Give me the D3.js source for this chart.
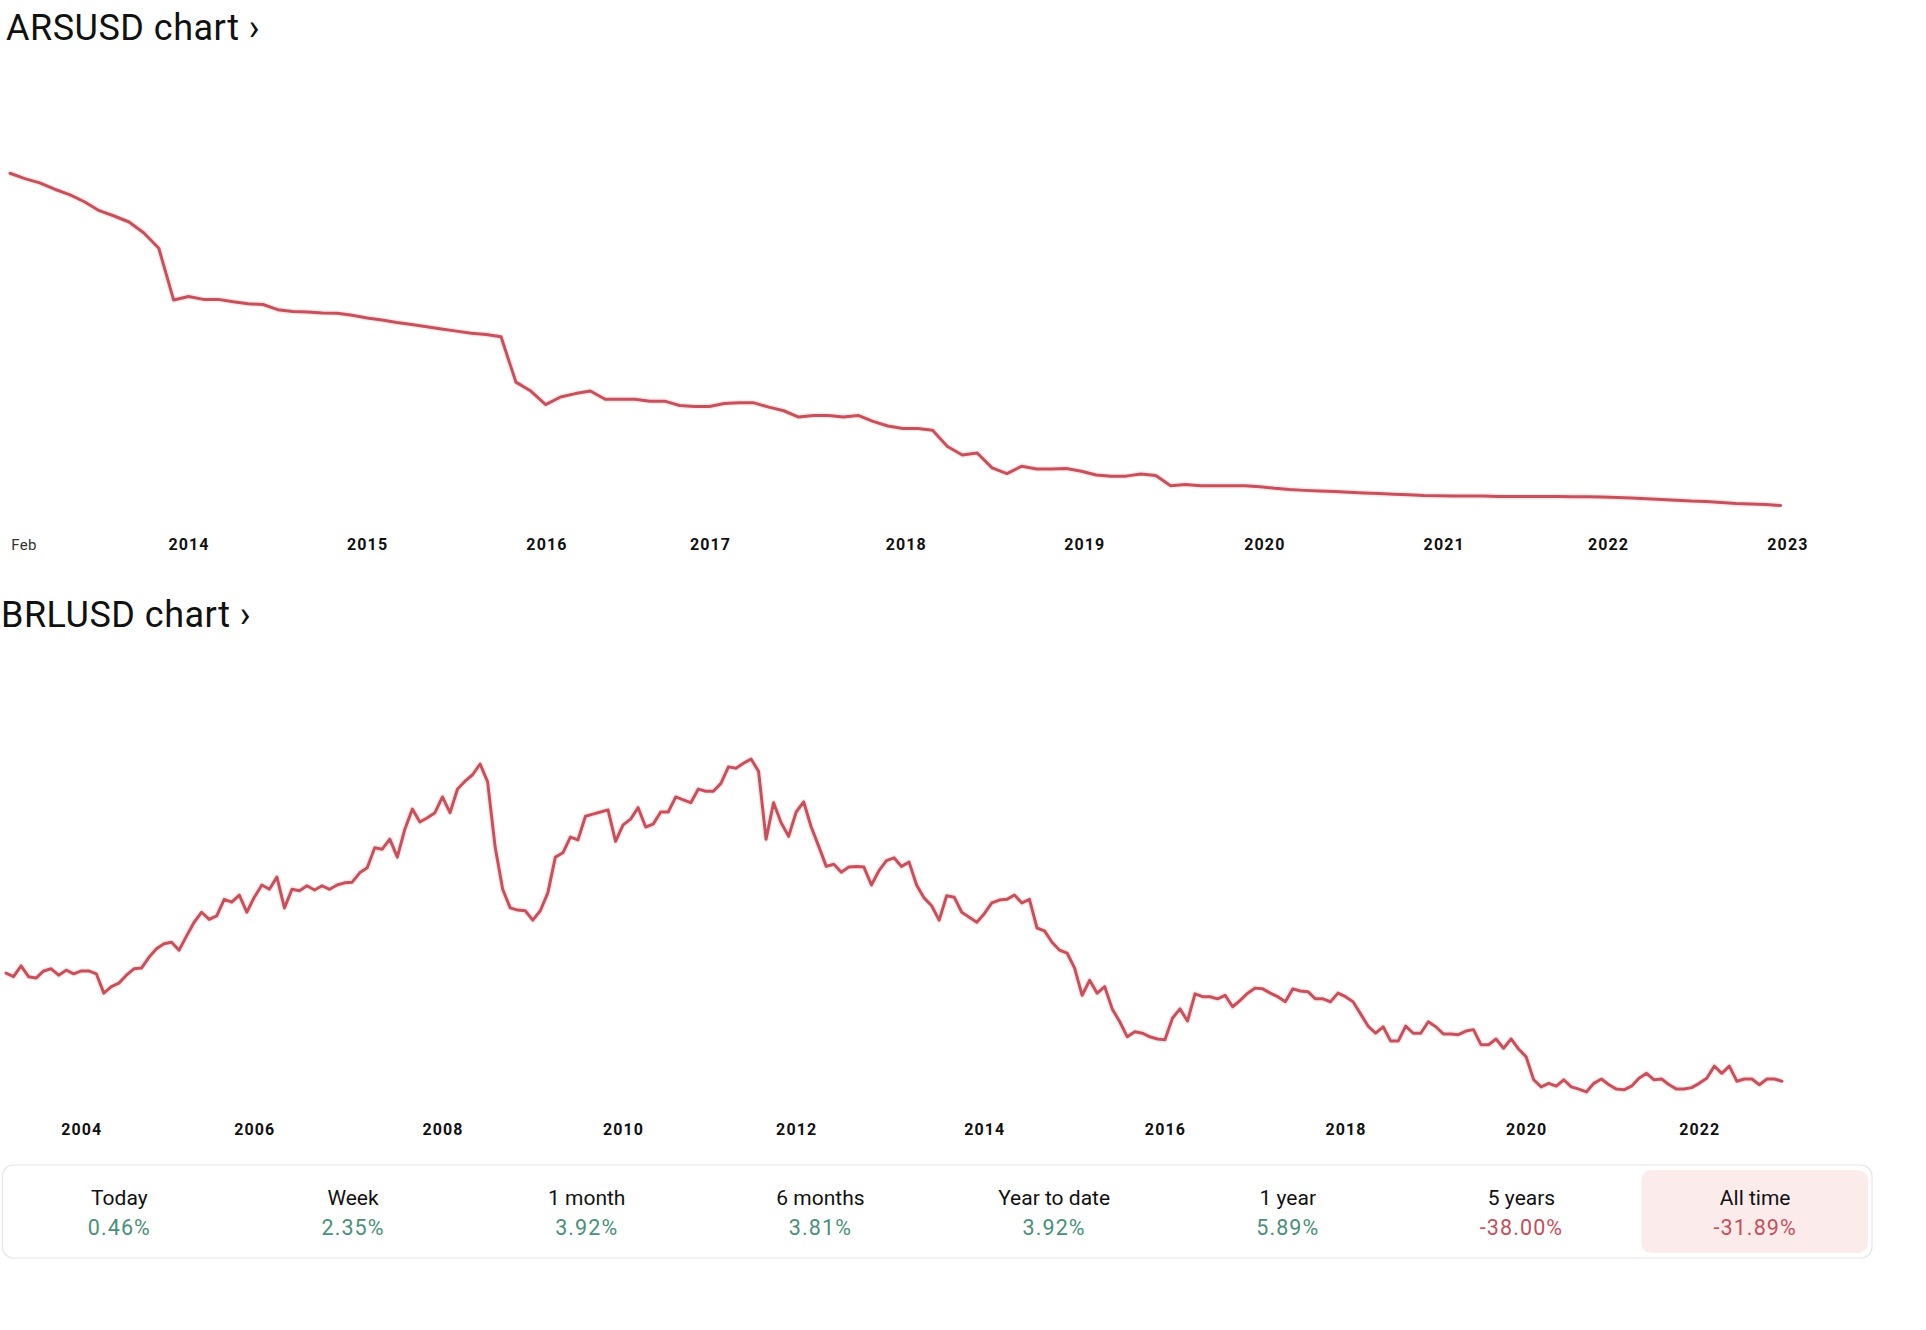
<!DOCTYPE html>
<html>
<head>
<meta charset="utf-8">
<script src="https://cdn.jsdelivr.net/npm/d3@7"></script>
<style>
  html, body { margin: 0; padding: 0; background: #ffffff; }
  svg { display: block; }
</style>
</head>
<body>
<svg id="chart" width="1926" height="1330"></svg>
<script>
// ---------------- DATA ----------------
// ARS/USD, monthly points (USD per ARS)
const arsValues = [
  0.1988, 0.1957, 0.1932, 0.1895, 0.1864, 0.1822, 0.1770, 0.1739, 0.1704, 0.1640,
  0.1551, 0.1249, 0.1270, 0.1253, 0.1253, 0.1239, 0.1228, 0.1223, 0.1193, 0.1183,
  0.1179, 0.1174, 0.1172, 0.1160, 0.1145, 0.1133, 0.1118, 0.1106, 0.1093, 0.1081,
  0.1068, 0.1056, 0.1048, 0.1035, 0.0771, 0.0719, 0.0640, 0.0684, 0.0704, 0.0719,
  0.0671, 0.0671, 0.0671, 0.0660, 0.0660, 0.0635, 0.0629, 0.0629, 0.0646, 0.0650,
  0.0650, 0.0625, 0.0604, 0.0567, 0.0577, 0.0577, 0.0567, 0.0577, 0.0542, 0.0515,
  0.0500, 0.0500, 0.0490, 0.0396, 0.0346, 0.0358, 0.0271, 0.0238, 0.0281, 0.0265,
  0.0265, 0.0267, 0.0251, 0.0230, 0.0223, 0.0223, 0.0236, 0.0227, 0.0167, 0.0174,
  0.0167, 0.0167, 0.0167, 0.0167, 0.0161, 0.0152, 0.0145, 0.0140, 0.0136, 0.0133,
  0.0129, 0.0125, 0.0122, 0.0118, 0.0114, 0.0110, 0.0108, 0.0107, 0.0107, 0.0107,
  0.0105, 0.0105, 0.0105, 0.0105, 0.0105, 0.0103, 0.0103, 0.0101, 0.0099, 0.0095,
  0.0091, 0.0087, 0.0083, 0.0078, 0.0075, 0.0069, 0.0064, 0.0061, 0.0057, 0.0052
];
const arsTickLabels = ["Feb", "2014", "2015", "2016", "2017", "2018", "2019", "2020", "2021", "2022", "2023"];
const arsTickPos    = [0.9, 12, 24, 36.05, 47.05, 60.2, 72.2, 84.3, 96.35, 107.4, 119.45]; // month offsets

// BRL/USD, monthly points (USD per BRL), from Mar 2003
const brlValues = [
  0.346, 0.341, 0.356, 0.341, 0.339, 0.349, 0.352, 0.343, 0.350, 0.345,
  0.349, 0.349, 0.345, 0.318, 0.327, 0.332, 0.343, 0.352, 0.353, 0.368,
  0.380, 0.387, 0.389, 0.378, 0.398, 0.417, 0.431, 0.421, 0.426, 0.449,
  0.445, 0.455, 0.431, 0.452, 0.469, 0.463, 0.480, 0.437, 0.463, 0.461,
  0.468, 0.462, 0.468, 0.463, 0.469, 0.472, 0.473, 0.486, 0.493, 0.521,
  0.519, 0.533, 0.508, 0.547, 0.575, 0.557, 0.563, 0.570, 0.592, 0.570,
  0.603, 0.614, 0.623, 0.638, 0.613, 0.522, 0.463, 0.437, 0.434, 0.433,
  0.420, 0.433, 0.458, 0.508, 0.514, 0.536, 0.532, 0.565, 0.568, 0.571,
  0.574, 0.530, 0.553, 0.561, 0.577, 0.550, 0.554, 0.571, 0.571, 0.592,
  0.588, 0.584, 0.603, 0.600, 0.600, 0.611, 0.634, 0.632, 0.639, 0.645,
  0.628, 0.533, 0.584, 0.556, 0.537, 0.571, 0.585, 0.550, 0.523, 0.495,
  0.498, 0.487, 0.494, 0.495, 0.494, 0.469, 0.489, 0.503, 0.507, 0.495,
  0.501, 0.469, 0.451, 0.440, 0.420, 0.454, 0.452, 0.431, 0.424, 0.417,
  0.429, 0.444, 0.448, 0.449, 0.455, 0.444, 0.449, 0.409, 0.405, 0.389,
  0.378, 0.374, 0.353, 0.315, 0.336, 0.318, 0.327, 0.296, 0.278, 0.257,
  0.264, 0.262, 0.257, 0.254, 0.253, 0.283, 0.296, 0.279, 0.317, 0.313,
  0.313, 0.310, 0.315, 0.299, 0.308, 0.318, 0.325, 0.324, 0.318, 0.313,
  0.306, 0.324, 0.321, 0.320, 0.310, 0.310, 0.306, 0.318, 0.313, 0.306,
  0.289, 0.272, 0.262, 0.271, 0.251, 0.251, 0.272, 0.262, 0.262, 0.278,
  0.271, 0.261, 0.261, 0.260, 0.265, 0.267, 0.246, 0.246, 0.254, 0.241,
  0.254, 0.240, 0.229, 0.197, 0.187, 0.192, 0.188, 0.197, 0.187, 0.184,
  0.180, 0.192, 0.198, 0.190, 0.184, 0.183, 0.188, 0.199, 0.206, 0.197,
  0.198, 0.190, 0.184, 0.184, 0.186, 0.192, 0.199, 0.216, 0.206, 0.216,
  0.195, 0.198, 0.198, 0.190, 0.198, 0.198, 0.195
];
const brlTickLabels = ["2004", "2006", "2008", "2010", "2012", "2014", "2016", "2018", "2020", "2022"];
const brlTickPos    = [10, 33, 58, 82, 105, 130, 154, 178, 202, 225]; // month offsets

const periodLabels = ["Today", "Week", "1 month", "6 months", "Year to date", "1 year", "5 years", "All time"];
const periodValues = [0.46, 2.35, 3.92, 3.81, 3.92, 5.89, -38.00, -31.89];
const selectedPeriod = "All time";

// ---------------- DRAW ----------------
const svg = d3.select("#chart");
const LINE = "#c8505a";
const GREEN = "#4a8f7b";
const RED = "#c4505a";

function drawChart(cfg) {
  const g = svg.append("g");
  g.append("text")
    .attr("x", cfg.titleX).attr("y", cfg.titleY)
    .attr("font-family", "Roboto, 'Liberation Sans', sans-serif")
    .attr("font-size", 36).attr("letter-spacing", "0.5px")
    .attr("fill", "#111")
    .text(cfg.title);

  const x = d3.scaleLinear().domain([0, cfg.values.length - 1]).range(cfg.xRange);
  const y = d3.scaleLinear().domain(cfg.yDomain).range(cfg.yRange);

  const line = d3.line().x((d, i) => x(i)).y(d => y(d));
  g.append("path")
    .datum(cfg.values)
    .attr("fill", "none")
    .attr("stroke", "#f4d0d3")
    .attr("stroke-width", 6)
    .attr("stroke-opacity", 0.45)
    .attr("stroke-linejoin", "round")
    .attr("d", line);
  g.append("path")
    .datum(cfg.values)
    .attr("fill", "none")
    .attr("stroke", LINE)
    .attr("stroke-width", 3)
    .attr("stroke-linejoin", "round")
    .attr("stroke-linecap", "round")
    .attr("d", line);

  const axis = d3.axisBottom(x)
    .tickValues(cfg.tickPos)
    .tickFormat((d, i) => cfg.tickLabels[i])
    .tickSize(0);
  const ax = g.append("g")
    .attr("transform", `translate(0,${cfg.axisY})`)
    .call(axis);
  ax.select(".domain").remove();
  const isMonth = d => cfg.tickLabels[cfg.tickPos.indexOf(d)] === "Feb";
  ax.selectAll("text")
    .attr("dy", 0).attr("y", 0)
    .attr("font-family", "Roboto, 'Liberation Sans', sans-serif")
    .attr("font-size", d => isMonth(d) ? 15 : 16)
    .attr("font-weight", d => isMonth(d) ? 400 : 700)
    .attr("letter-spacing", d => isMonth(d) ? "0.3px" : "1.1px")
    .attr("fill", d => isMonth(d) ? "#333" : "#111");
}

drawChart({
  title: "ARSUSD chart \u203A",
  titleX: 6, titleY: 40,
  values: arsValues,
  xRange: [10, 1780.7],
  yDomain: [0, 0.2],
  yRange: [514.4, 171.2],
  tickPos: arsTickPos,
  tickLabels: arsTickLabels,
  axisY: 550
});

drawChart({
  title: "BRLUSD chart \u203A",
  titleX: 1, titleY: 627,
  values: brlValues,
  xRange: [6, 1782],
  yDomain: [0.15, 0.70],
  yRange: [1113.42, 719.62],
  tickPos: brlTickPos,
  tickLabels: brlTickLabels,
  axisY: 1135
});

// -------- period stats panel --------
const panel = { x: 2.5, y: 1165, w: 1869.5, h: 93 };
const colScale = d3.scaleBand().domain(periodLabels).range([panel.x, panel.x + panel.w]);
const pg = svg.append("g");
pg.append("rect")
  .attr("x", panel.x).attr("y", panel.y)
  .attr("width", panel.w).attr("height", panel.h)
  .attr("rx", 11).attr("ry", 11)
  .attr("fill", "#fff").attr("stroke", "#e6e6e6").attr("stroke-width", 1.2);

pg.append("rect")
  .attr("x", colScale(selectedPeriod) + 3)
  .attr("y", panel.y + 5)
  .attr("width", colScale.bandwidth() - 7)
  .attr("height", panel.h - 10)
  .attr("rx", 10).attr("ry", 10)
  .attr("fill", "#fcebeb");

const cells = pg.selectAll("g.cell")
  .data(periodLabels.map((l, i) => ({ label: l, value: periodValues[i] })))
  .join("g").attr("class", "cell")
  .attr("transform", d => `translate(${colScale(d.label) + colScale.bandwidth() / 2},0)`);

cells.append("text")
  .attr("y", 1205)
  .attr("text-anchor", "middle")
  .attr("font-family", "Roboto, 'Liberation Sans', sans-serif")
  .attr("font-size", 21)
  .attr("fill", "#111")
  .text(d => d.label);

cells.append("text")
  .attr("y", 1235)
  .attr("text-anchor", "middle")
  .attr("font-family", "Roboto, 'Liberation Sans', sans-serif")
  .attr("font-size", 21.5)
  .attr("letter-spacing", "1.1px")
  .attr("fill", d => d.value >= 0 ? GREEN : RED)
  .text(d => d.value.toFixed(2) + "%");
</script>
</body>
</html>
